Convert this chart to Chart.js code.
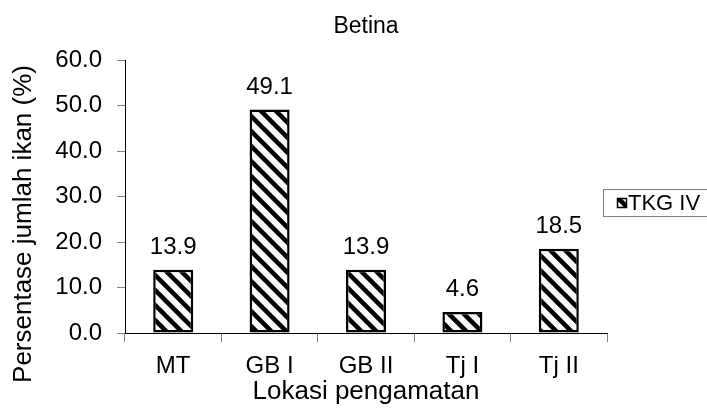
<!DOCTYPE html>
<html>
<head>
<meta charset="utf-8">
<script src="https://cdn.jsdelivr.net/npm/chart.js@4.4.1/dist/chart.umd.min.js"></script>
<style>
  html, body { margin: 0; padding: 0; background: #fff; }
  #wrap { width: 707px; height: 411px; }
</style>
</head>
<body>
<div id="wrap"><canvas id="c" width="707" height="411"></canvas></div>
<script>
// Locations and share of fish at maturity stage IV (female)
const categories = ['MT', 'GB I', 'GB II', 'Tj I', 'Tj II'];
const tkgIV = [13.9, 49.1, 13.9, 4.6, 18.5];
const seriesName = 'TKG IV';
const yTicks = [0, 10, 20, 30, 40, 50, 60];
const chartTitle = 'Betina';
const xTitle = 'Lokasi pengamatan';
const yTitle = 'Persentase jumlah ikan (%)';

const FONT = '"Liberation Sans", Arial, sans-serif';

// Diagonal "\" hatch fill used for the bars and the legend swatch
function makeHatch() {
  const s = 15;
  const tile = document.createElement('canvas');
  tile.width = s; tile.height = s;
  const g = tile.getContext('2d');
  g.fillStyle = '#fafafa';
  g.fillRect(0, 0, s, s);
  g.strokeStyle = '#000';
  g.lineWidth = 4.5;
  for (const k of [-s, 0, s]) {
    g.beginPath();
    g.moveTo(-3, -3 + k);
    g.lineTo(s + 3, s + 3 + k);
    g.stroke();
  }
  return document.createElement('canvas').getContext('2d').createPattern(tile, 'repeat');
}
const hatch = makeHatch();

// Value labels above each bar
const valueLabels = {
  id: 'valueLabels',
  afterDatasetsDraw(chart) {
    const ctx = chart.ctx;
    const meta = chart.getDatasetMeta(0);
    ctx.save();
    ctx.font = '24px ' + FONT;
    ctx.fillStyle = '#000';
    ctx.textAlign = 'center';
    ctx.textBaseline = 'alphabetic';
    meta.data.forEach((bar, i) => {
      ctx.fillText(tkgIV[i].toFixed(1), bar.x, bar.y - 16);
    });
    ctx.restore();
  }
};

// Vertical axis caption, set a little below the plot's midline
const yCaption = {
  id: 'yCaption',
  afterDraw(chart) {
    const ctx = chart.ctx;
    ctx.save();
    ctx.translate(24, 224);
    ctx.rotate(-Math.PI / 2);
    ctx.font = '26px ' + FONT;
    ctx.fillStyle = '#000';
    ctx.textAlign = 'center';
    ctx.textBaseline = 'middle';
    ctx.fillText(yTitle, 0, 0);
    ctx.restore();
  }
};

// Boxed legend at the right edge
const boxedLegend = {
  id: 'boxedLegend',
  afterDraw(chart) {
    const ctx = chart.ctx;
    ctx.save();
    ctx.strokeStyle = '#808080';
    ctx.lineWidth = 1;
    ctx.strokeRect(603.5, 189.5, 120, 27);
    ctx.fillStyle = hatch;
    ctx.fillRect(617, 198, 10, 10);
    ctx.strokeStyle = '#000';
    ctx.lineWidth = 1.5;
    ctx.strokeRect(617.5, 198.5, 9, 9);
    ctx.font = '22px ' + FONT;
    ctx.fillStyle = '#000';
    ctx.textAlign = 'left';
    ctx.textBaseline = 'middle';
    ctx.fillText(seriesName, 628, 204);
    ctx.restore();
  }
};

new Chart(document.getElementById('c'), {
  type: 'bar',
  data: {
    labels: categories,
    datasets: [{
      label: seriesName,
      data: tkgIV,
      backgroundColor: hatch,
      borderColor: '#000',
      borderWidth: 2.5,
      borderSkipped: false,
      barPercentage: 0.415,
      categoryPercentage: 1
    }]
  },
  options: {
    responsive: false,
    animation: false,
    devicePixelRatio: 1,
    layout: { padding: { left: 0, right: 100, top: 0, bottom: 0 } },
    plugins: {
      legend: { display: false },
      tooltip: { enabled: false },
      title: {
        display: true,
        text: chartTitle,
        fullSize: false,
        color: '#000',
        font: { family: FONT, size: 23, weight: 'normal' },
        padding: { top: 13, bottom: 19.4 }
      }
    },
    scales: {
      x: {
        offset: true,
        grid: { offset: true, drawOnChartArea: false, drawTicks: true, tickLength: 9, color: '#808080' },
        border: { display: true, color: '#000', width: 1 },
        ticks: { color: '#000', padding: 10, font: { family: FONT, size: 24 } },
        title: { display: true, text: xTitle, color: '#000', font: { family: FONT, size: 26 }, padding: { top: 0, bottom: 4 } },
        afterFit(s) { s.height = 78; }
      },
      y: {
        min: 0,
        max: 60,
        afterBuildTicks(s) { s.ticks = yTicks.map(v => ({ value: v })); },
        grid: { drawOnChartArea: false, drawTicks: true, tickLength: 8, color: '#808080' },
        border: { display: true, color: '#000', width: 1 },
        ticks: { color: '#000', padding: 15, font: { family: FONT, size: 24 }, callback: v => Number(v).toFixed(1) },
        title: { display: false },
        afterFit(s) { s.width = 125; }
      }
    }
  },
  plugins: [valueLabels, yCaption, boxedLegend]
});
</script>
</body>
</html>
